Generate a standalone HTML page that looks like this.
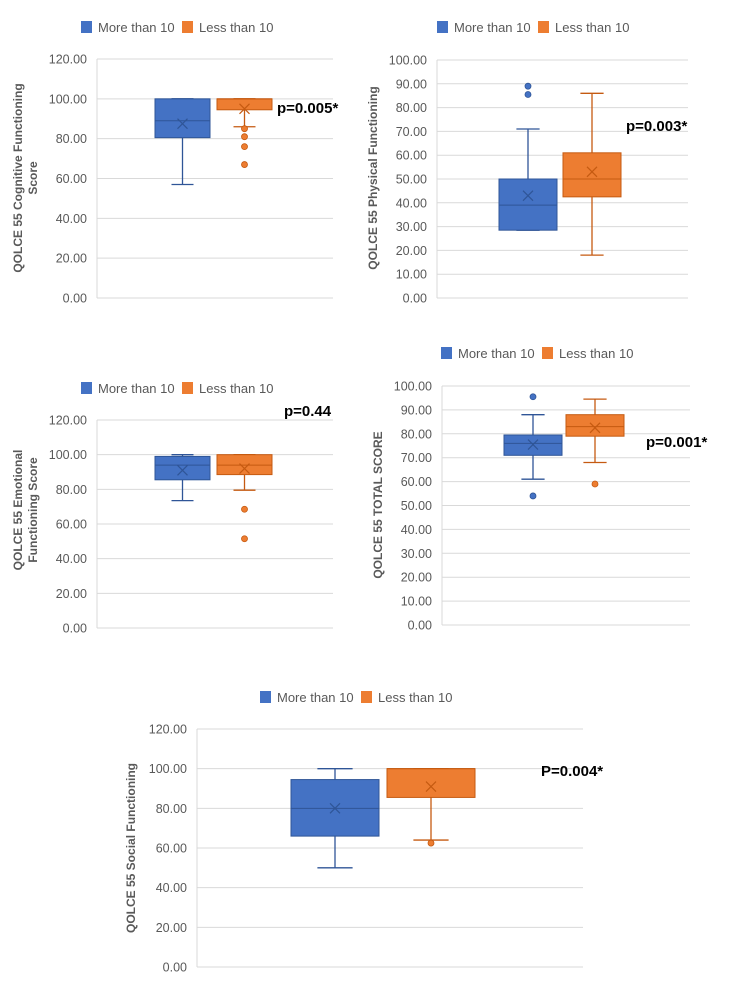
<!DOCTYPE html>
<html><head><meta charset="utf-8"><style>
body{margin:0;background:#fff;width:750px;height:989px;overflow:hidden}
svg{display:block}
</style></head><body>
<svg id="root" width="750" height="989" font-family="Liberation Sans, sans-serif"></svg>
<script>
// Chart data
const seriesNames = ["More than 10", "Less than 10"];
// [min, q1, median, q3, max, mean]
const cogBlue = [57, 80.5, 89, 100, 100, 87.5];
const cogOrange = [86, 94.5, 100, 100, 100, 95];
const cogOutBlue = [];
const cogOutOrange = [85, 81, 76, 67];
const physBlue = [28.5, 28.5, 39, 50, 71, 43];
const physOrange = [18, 42.5, 50, 61, 86, 53];
const physOutBlue = [89, 85.5];
const physOutOrange = [];
const emoBlue = [73.5, 85.5, 94, 99, 100, 91];
const emoOrange = [79.5, 88.5, 94, 100, 100, 92];
const emoOutBlue = [];
const emoOutOrange = [68.5, 51.5];
const totBlue = [61, 71, 76, 79.5, 88, 75.5];
const totOrange = [68, 79, 83, 88, 94.5, 82.5];
const totOutBlue = [95.5, 54];
const totOutOrange = [59];
const socBlue = [50, 66, 80, 94.5, 100, 80];
const socOrange = [64, 85.5, 100, 100, 100, 91];
const socOutBlue = [];
const socOutOrange = [62.5];
const ticks120 = [0, 20, 40, 60, 80, 100, 120];
const ticks100 = [0, 10, 20, 30, 40, 50, 60, 70, 80, 90, 100];

const NS = "http://www.w3.org/2000/svg";
const root = document.getElementById('root');
const BLUE = "#4472c4", BLUEL = "#2f5597", ORG = "#ed7d31", ORGL = "#c55a11";
function mk(tag, attrs, parent) {
  const e = document.createElementNS(NS, tag);
  for (const k in attrs) e.setAttribute(k, attrs[k]);
  (parent || root).appendChild(e);
  return e;
}
function chart(o) {
  const g = mk('g', {});
  
  
  const max = o.ticks[o.ticks.length - 1];
  const y = v => o.y0 - (v / max) * (o.y0 - o.yTop);
  o.ticks.forEach(t => {
    const l = mk('line', {x1: o.x0, x2: o.x1, y1: y(t), y2: y(t), stroke: "#d9d9d9", "stroke-width": 1}, g);
    
    
    const tx = mk('text', {x: o.x0 - 10, y: y(t) + 4.5, "text-anchor": "end", "font-size": 12.5, fill: "#595959"}, g);
    tx.textContent = t.toFixed(2);
    
    
  });
  const ax = mk('line', {x1: o.x0, x2: o.x0, y1: o.yTop, y2: o.y0, stroke: "#d9d9d9"}, g);
  
  
  const tt = mk('text', {transform: `translate(${o.titleX},${o.titleY}) rotate(-90)`, "text-anchor": "middle", "font-size": 12, "font-weight": "bold", fill: "#595959"}, g);
  
  
  o.title.forEach((line, i) => {
    const ts = mk('tspan', {x: 0, dy: i === 0 ? 0 : 15}, tt);
    ts.textContent = line;
  });
  const lg = mk('g', {}, g);
  
  
  [[BLUE, seriesNames[0], 0], [ORG, seriesNames[1], 101]].forEach(([c, n, dx]) => {
    const r = mk('rect', {x: o.legX + dx, y: o.legY - 6, width: 11, height: 12, fill: c}, lg);
    
    
    const t = mk('text', {x: o.legX + dx + 17, y: o.legY + 5, "font-size": 13, fill: "#595959"}, lg);
    t.textContent = n;
    
    
  });
  [[o.blue, o.outB, o.bx, BLUE, BLUEL, 'blue'], [o.orange, o.outO, o.ox, ORG, ORGL, 'orange']].forEach(([d, outs, bx, fill, line, nm]) => {
    const w = o.bw, cx = bx + w / 2, cap = w * 0.2;
    const bg = mk('g', {}, g);
    
    
    mk('line', {x1: cx, x2: cx, y1: y(d[0]), y2: y(d[1]), stroke: line, "stroke-width": 1.3}, bg);
    mk('line', {x1: cx, x2: cx, y1: y(d[3]), y2: y(d[4]), stroke: line, "stroke-width": 1.3}, bg);
    mk('line', {x1: cx - cap, x2: cx + cap, y1: y(d[0]), y2: y(d[0]), stroke: line, "stroke-width": 1.3}, bg);
    mk('line', {x1: cx - cap, x2: cx + cap, y1: y(d[4]), y2: y(d[4]), stroke: line, "stroke-width": 1.3}, bg);
    mk('rect', {x: bx, y: y(d[3]), width: w, height: Math.max(1, y(d[1]) - y(d[3])), fill: fill, stroke: line, "stroke-width": 1}, bg);
    mk('line', {x1: bx, x2: bx + w, y1: y(d[2]), y2: y(d[2]), stroke: line, "stroke-width": 1}, bg);
    const my = y(d[5]), s = 5;
    mk('path', {d: `M${cx - s},${my - s}L${cx + s},${my + s}M${cx - s},${my + s}L${cx + s},${my - s}`, stroke: line, "stroke-width": 1.2}, bg);
    outs.forEach(v => {
      const c = mk('circle', {cx: cx, cy: y(v), r: 3, fill: fill, stroke: line, "stroke-width": 0.8}, bg);
      
      
    });
  });
  const p = mk('text', {x: o.pX, y: o.pY, "font-size": 15, "font-weight": "bold", fill: "#000"}, g);
  p.textContent = o.p;
  
  
}
chart({name: 'cognitive-chart', ticks: ticks120, x0: 97, x1: 333, yTop: 59, y0: 298, bx: 155, ox: 217, bw: 55,
  blue: cogBlue, orange: cogOrange, outB: cogOutBlue, outO: cogOutOrange,
  title: ["QOLCE 55 Cognitive Functioning", "Score"], titleX: 22, titleY: 178, legX: 81, legY: 27, p: "p=0.005*", pX: 277, pY: 113});
chart({name: 'physical-chart', ticks: ticks100, x0: 437, x1: 688, yTop: 60, y0: 298, bx: 499, ox: 563, bw: 58,
  blue: physBlue, orange: physOrange, outB: physOutBlue, outO: physOutOrange,
  title: ["QOLCE 55 Physical Functioning"], titleX: 377, titleY: 178, legX: 437, legY: 27, p: "p=0.003*", pX: 626, pY: 131});
chart({name: 'emotional-chart', ticks: ticks120, x0: 97, x1: 333, yTop: 420, y0: 628, bx: 155, ox: 217, bw: 55,
  blue: emoBlue, orange: emoOrange, outB: emoOutBlue, outO: emoOutOrange,
  title: ["QOLCE 55 Emotional", "Functioning Score"], titleX: 22, titleY: 510, legX: 81, legY: 388, p: "p=0.44", pX: 284, pY: 416});
chart({name: 'total-score-chart', ticks: ticks100, x0: 442, x1: 690, yTop: 386, y0: 625, bx: 504, ox: 566, bw: 58,
  blue: totBlue, orange: totOrange, outB: totOutBlue, outO: totOutOrange,
  title: ["QOLCE 55 TOTAL SCORE"], titleX: 382, titleY: 505, legX: 441, legY: 353, p: "p=0.001*", pX: 646, pY: 447});
chart({name: 'social-chart', ticks: ticks120, x0: 197, x1: 583, yTop: 729, y0: 967, bx: 291, ox: 387, bw: 88,
  blue: socBlue, orange: socOrange, outB: socOutBlue, outO: socOutOrange,
  title: ["QOLCE 55 Social Functioning"], titleX: 135, titleY: 848, legX: 260, legY: 697, p: "P=0.004*", pX: 541, pY: 776});
</script>
</body></html>
